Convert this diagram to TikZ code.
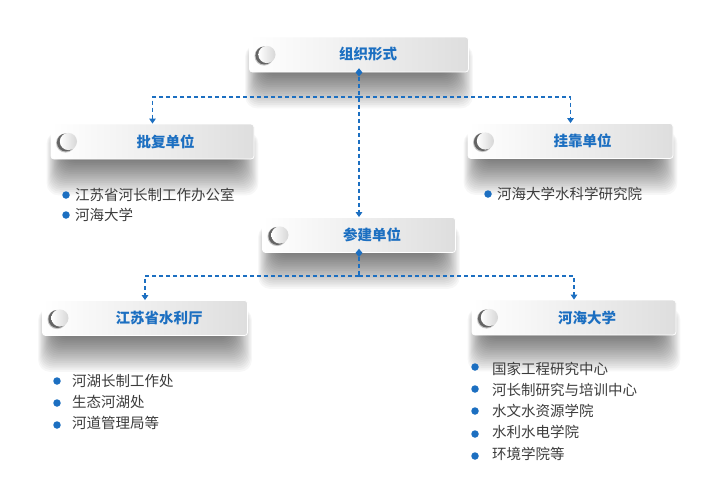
\documentclass[tikz,border=0pt]{standalone}
\usepackage{fontspec}
\newfontfamily\cjk{Noto Sans CJK SC}
\usetikzlibrary{arrows.meta,calc,shapes.geometric}
\pgfdeclarelayer{bg}
\pgfsetlayers{bg,main}
\definecolor{cblue}{HTML}{1C6FC1}
\definecolor{ctext}{HTML}{3C3C3C}
\tikzset{
 box/.style={rectangle, rounded corners=3pt, minimum height=35pt, inner sep=0pt,
   left color=white, right color=black!13, draw=white, line width=0.8pt},
 title/.style={font=\cjk\bfseries\fontsize{14.5}{16}\selectfont, text=cblue, inner sep=0pt},
 item/.style={font=\cjk\fontsize{14.5}{16}\selectfont, text=ctext, anchor=west, inner sep=0pt},
 conn/.style={draw=cblue, line width=1.1pt, dash pattern=on 4pt off 3pt,
   -{Triangle[length=5pt,width=6.5pt]}},
 plainconn/.style={draw=cblue, line width=1.1pt, dash pattern=on 4pt off 3pt},
 diam/.style={diamond, fill=cblue, minimum width=7pt, minimum height=8.5pt, inner sep=0pt},
 dot/.style={circle, fill=cblue, minimum size=7.5pt, inner sep=0pt},
 shadowlayer/.style={fill=black, opacity=0.03, rounded corners=12pt},
}
\newcommand\mknob[1]{%
 \fill[black!55, opacity=0.4] ($(#1.west)+(15,1.5)$) circle (9.6);
 \fill[black!70, opacity=0.8] ($(#1.west)+(15.3,1)$) circle (9);
 \shade[left color=white, right color=black!16] ($(#1.west)+(17.8,0)$) circle (8.6);
}
\newcommand\mshadow[1]{%
 \begin{pgfonlayer}{bg}
 \foreach \i in {0,...,19}{
   \fill[shadowlayer] ($(#1.north west)+(-4+\i*0.9,8)$) rectangle ($(#1.south east)+(4-\i*1.1,36-\i*1.8)$);
 }
 \end{pgfonlayer}
}
\begin{document}
\begin{tikzpicture}[x=1pt,y=-1pt]
\begin{pgfonlayer}{bg}
\fill[white] (0,0) rectangle (718,490);
\end{pgfonlayer}
\useasboundingbox (0,0) rectangle (718,490);
% boxes
\node[box, minimum width=219pt] (org) at (359,54.5) {};
\node[box, minimum width=203pt] (pf) at (152.5,141.5) {};
\node[box, minimum width=205pt] (gk) at (570.5,141) {};
\node[box, minimum width=193pt] (cj) at (359,235) {};
\node[box, minimum width=205pt] (js) at (145,318) {};
\node[box, minimum width=204pt] (hh) at (574,317.5) {};
\mshadow{org}\mshadow{pf}\mshadow{gk}\mshadow{cj}\mshadow{js}\mshadow{hh}
\mknob{org}\mknob{pf}\mknob{gk}\mknob{cj}\mknob{js}\mknob{hh}
\node[title] (orgT) at ($(org)+(9,0)$) {组织形式};
\node[title] (pfT) at ($(pf)+(13,0)$) {批复单位};
\node[title] (gkT) at ($(gk)+(12,0)$) {挂靠单位};
\node[title] (cjT) at ($(cj)+(13,0)$) {参建单位};
\node[title] (jsT) at ($(js)+(14,0)$) {江苏省水利厅};
\node[title] (hhT) at ($(hh)+(13,0)$) {河海大学};
% connectors
\coordinate (j1) at (359,97);
\coordinate (j2) at (359,276);
\node[diam] (d1) at (org.south) {};
\node[diam] (d2) at (cj.south) {};
\draw[conn] (d1) -- (cj.north);
\draw[conn] (j1) -| (pf.north);
\draw[conn] (j1) -| (gk.north);
\draw[plainconn] (d2) -- (j2);
\draw[conn] (j2) -| (js.north);
\draw[conn] (j2) -| (hh.north);
% lists
\node[dot] (pf1d) at (66,195) {};
\node[item] (pf1) at (75,195) {江苏省河长制工作办公室};
\node[dot] (pf2d) at (66,215) {};
\node[item] (pf2) at (75,215) {河海大学};
\node[dot] (gk1d) at (488,194) {};
\node[item] (gk1) at (497,194) {河海大学水科学研究院};
\node[dot] (js1d) at (57,381) {};
\node[item] (js1) at (72,381) {河湖长制工作处};
\node[dot] (js2d) at (57,403) {};
\node[item] (js2) at (72,402) {生态河湖处};
\node[dot] (js3d) at (57,425) {};
\node[item] (js3) at (72,423) {河道管理局等};
\node[dot] (hh1d) at (475,367) {};
\node[item] (hh1) at (492,369) {国家工程研究中心};
\node[dot] (hh2d) at (475,389) {};
\node[item] (hh2) at (492,390) {河长制研究与培训中心};
\node[dot] (hh3d) at (475,411) {};
\node[item] (hh3) at (492,411) {水文水资源学院};
\node[dot] (hh4d) at (475,434) {};
\node[item] (hh4) at (492,432) {水利水电学院};
\node[dot] (hh5d) at (475,456) {};
\node[item] (hh5) at (492,454) {环境学院等};
\end{tikzpicture}
\end{document}
